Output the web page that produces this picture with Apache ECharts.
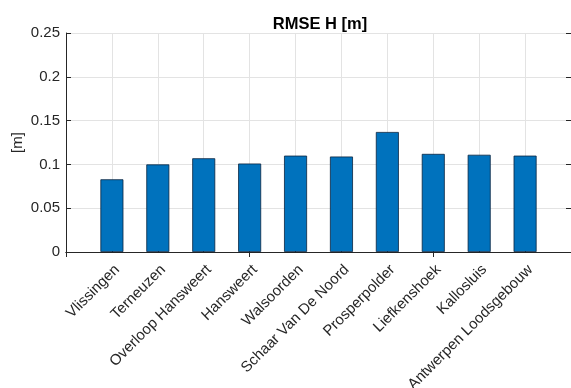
<!DOCTYPE html>
<html>
<head>
<meta charset="utf-8">
<script src="https://cdn.jsdelivr.net/npm/echarts@6/dist/echarts.min.js"></script>
<style>
  html, body { margin: 0; padding: 0; background: #fff; }
  #chart { width: 571px; height: 388px; }
</style>
</head>
<body>
<div id="chart"></div>
<script>
// Stations along the Western Scheldt, with RMSE of water level H in metres
const stations = [
  'Vlissingen', 'Terneuzen', 'Overloop Hansweert', 'Hansweert', 'Walsoorden',
  'Schaar Van De Noord', 'Prosperpolder', 'Liefkenshoek', 'Kallosluis', 'Antwerpen Loodsgebouw'
];
const rmseH = [0.083, 0.100, 0.107, 0.101, 0.110, 0.109, 0.137, 0.112, 0.111, 0.110];
const yTicks = [0, 0.05, 0.1, 0.15, 0.2, 0.25];

// Empty slots at both ends give the axis half-open margins around the bars
const cats = [''].concat(stations, ['']);
const vals = [null].concat(rmseH, [null]);

const axisColor = '#262626';
const gridColor = '#e3e3e3';
const font = 'Liberation Sans, Arial, Helvetica, sans-serif';

const chart = echarts.init(document.getElementById('chart'), null, { renderer: 'canvas' });
chart.setOption({
  animation: false,
  backgroundColor: '#ffffff',
  title: {
    text: 'RMSE H [m]',
    left: 315, top: 11, textAlign: 'center',
    textStyle: { fontFamily: font, fontSize: 16.5, fontWeight: 'bold', color: '#000' }
  },
  grid: {
    left: 66, right: 0, top: 33, bottom: 136,
    containLabel: false, outerBoundsMode: 'none'
  },
  xAxis: [
    {
      type: 'category', data: cats, boundaryGap: false, position: 'bottom',
      axisLine: { show: true, lineStyle: { color: axisColor, width: 1 } },
      axisTick: { show: true, inside: true, length: 5, lineStyle: { color: axisColor } },
      splitLine: { show: true, lineStyle: { color: gridColor, width: 1 } },
      axisLabel: {
        interval: 0, rotate: 45, margin: 10, align: 'right', verticalAlign: 'top',
        hideOverlap: false,
        fontFamily: font, fontSize: 15, color: axisColor
      }
    },
    {
      type: 'category', data: cats, boundaryGap: false, position: 'top',
      axisLine: { show: true, lineStyle: { color: axisColor, width: 1 } },
      axisTick: { show: true, inside: true, length: 5, lineStyle: { color: axisColor } },
      axisLabel: { show: false }, splitLine: { show: false }
    }
  ],
  yAxis: [
    {
      type: 'value', min: yTicks[0], max: yTicks[yTicks.length - 1], interval: 0.05,
      name: '[m]', nameLocation: 'middle', nameGap: 41, nameRotate: 90,
      nameMoveOverlap: false,
      nameTextStyle: { fontFamily: font, fontSize: 15, color: axisColor },
      axisLine: { show: true, lineStyle: { color: axisColor, width: 1 } },
      axisTick: { show: true, inside: true, length: 5, lineStyle: { color: axisColor } },
      splitLine: { show: true, lineStyle: { color: gridColor, width: 1 } },
      axisLabel: {
        margin: 6, fontFamily: font, fontSize: 15, color: axisColor,
        formatter: v => String(parseFloat(v.toFixed(2)))
      }
    },
    {
      type: 'value', min: yTicks[0], max: yTicks[yTicks.length - 1], interval: 0.05,
      position: 'right',
      axisLine: { show: true, lineStyle: { color: axisColor, width: 1 } },
      axisTick: { show: true, inside: true, length: 5, lineStyle: { color: axisColor } },
      axisLabel: { show: false }, splitLine: { show: false }
    }
  ],
  series: [{
    type: 'bar', xAxisIndex: 0, yAxisIndex: 0,
    data: vals, barWidth: 23,
    itemStyle: { color: '#0072BD', borderColor: '#0a2440', borderWidth: 0.8 }
  }]
});
</script>
</body>
</html>
